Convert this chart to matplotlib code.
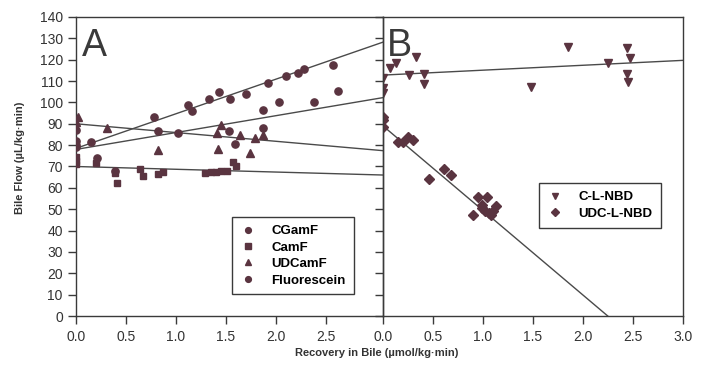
import matplotlib
matplotlib.use("Agg")
import matplotlib.pyplot as plt
import numpy as np

plt.rcParams['font.family'] = ['Liberation Sans', 'DejaVu Sans']

# ---- panel A data ----
cgamf_x = [0.0, 0.0, 0.0, 0.15, 0.78, 1.12, 1.16, 1.33, 1.43, 1.54, 1.70, 1.92, 2.10, 2.22, 2.28, 2.57]
cgamf_y = [87, 82, 79, 81.5, 93, 98.8, 96, 101.6, 104.9, 101.7, 104, 109.2, 112.2, 114, 115.8, 117.4]

camf_x = [0.0, 0.0, 0.0, 0.20, 0.39, 0.41, 0.64, 0.67, 0.82, 0.87, 1.29, 1.35, 1.40, 1.45, 1.51, 1.57, 1.60]
camf_y = [74.5, 72.5, 71, 71.8, 67, 62.2, 69, 65.5, 66.5, 67.5, 66.8, 67.3, 67.5, 67.8, 68, 72.2, 70.3]

udcamf_x = [0.02, 0.0, 0.31, 0.82, 1.42, 1.41, 1.45, 1.64, 1.74, 1.79, 1.87]
udcamf_y = [93, 91, 88, 77.7, 78, 85.8, 89.4, 84.6, 76.5, 83.3, 84.7]

fluor_x = [0.0, 0.21, 0.39, 0.82, 1.02, 1.53, 1.59, 1.87, 1.87, 2.03, 2.38, 2.62]
fluor_y = [80, 74, 68, 86.7, 85.6, 86.8, 80.5, 87.9, 96.4, 100.1, 100.3, 105.4]

# fitted lines (intercept, slope) for CGamF, CamF, UDCamF, Fluorescein
fit_a = {
    "CGamF": (78.5, 16.2),
    "CamF": (70.0, -1.3),
    "UDCamF": (90.0, -4.1),
    "Fluorescein": (78.0, 7.9),
}

# ---- panel B data ----
cl_x = [0.0, 0.0, 0.0, 0.07, 0.13, 0.33, 0.26, 0.41, 0.41, 1.48, 1.85, 2.25, 2.44, 2.47, 2.44, 2.45]
cl_y = [111.3, 106.8, 104.6, 116.3, 118.3, 121.4, 112.8, 113.3, 108.5, 107.1, 126.1, 118.6, 125.7, 120.6, 113.1, 109.7]

udcl_x = [0.0, 0.0, 0.0, 0.15, 0.20, 0.25, 0.30, 0.46, 0.61, 0.68, 0.95, 1.04, 0.90, 0.99,
          0.99, 1.02, 1.06, 1.08, 1.10, 1.13]
udcl_y = [93.3, 91.8, 88.6, 81.6, 81.6, 84, 82.2, 64, 68.8, 66, 55.9, 55.9, 47.3, 52,
          50.5, 49, 48, 47.5, 49, 51.5]

fit_cl = (112.8, 2.3)
fit_udcl = (89.0, -39.6)

mcol = "#5a3440"
lcol = "#4a4a4a"
acol = "#3a3a3a"

fig = plt.figure(figsize=(7.05, 3.67), dpi=100)
W, H = 705, 367
axB = fig.add_axes([383 / W, (H - 316) / H, 300 / W, 299 / H])
axA = fig.add_axes([76 / W, (H - 316) / H, (383 - 76) / W, 299 / H])
axA.patch.set_alpha(0)

leg_kw = dict(frameon=True, fancybox=False, edgecolor=acol, markerscale=0.8,
              prop={'weight': 'bold', 'size': 9.5}, handletextpad=1.1,
              labelspacing=0.32, borderpad=0.6, handlelength=1.3,
              borderaxespad=0, framealpha=1)

# panel A
axA.set_xlim(0, 3.07)
xa = np.array([0, 3.07])
for name, (b0, b1) in fit_a.items():
    axA.plot(xa, b0 + b1 * xa, color=lcol, lw=1.0, zorder=2)
axA.plot(cgamf_x, cgamf_y, 'o', color=mcol, ms=5.2, label="CGamF", zorder=3)
axA.plot(camf_x, camf_y, 's', color=mcol, ms=4.8, label="CamF", zorder=3)
axA.plot(udcamf_x, udcamf_y, '^', color=mcol, ms=5.5, label="UDCamF", zorder=3)
axA.plot(fluor_x, fluor_y, 'o', color=mcol, ms=5.2, label="Fluorescein", zorder=3)
axA.set_xticks([0, 0.5, 1.0, 1.5, 2.0, 2.5])
axA.set_xticklabels(["0.0", "0.5", "1.0", "1.5", "2.0", "2.5"])
axA.text(0.055, 135, "A", fontsize=27, color=acol, va="top", ha="left")
legA = axA.legend(loc="upper left", bbox_to_anchor=((232 - 76) / 307, (316 - 217) / 299), **leg_kw)
legA.get_frame().set_linewidth(1.0)

# panel B
axB.set_xlim(0, 3.0)
xb = np.array([0, 3.0])
axB.plot(xb, fit_cl[0] + fit_cl[1] * xb, color=lcol, lw=1.0, zorder=2)
x_end = -fit_udcl[0] / fit_udcl[1]
xb2 = np.array([0, x_end])
axB.plot(xb2, fit_udcl[0] + fit_udcl[1] * xb2, color=lcol, lw=1.0, zorder=2)
axB.plot(cl_x, cl_y, 'v', color=mcol, ms=5.8, label="C-L-NBD", zorder=3)
axB.plot(udcl_x, udcl_y, 'D', color=mcol, ms=4.8, label="UDC-L-NBD", zorder=3)
axB.set_xticks([0, 0.5, 1.0, 1.5, 2.0, 2.5, 3.0])
axB.set_xticklabels(["0.0", "0.5", "1.0", "1.5", "2.0", "2.5", "3.0"])
axB.set_yticklabels([])
axB.text(0.035, 135, "B", fontsize=27, color=acol, va="top", ha="left")
legB = axB.legend(loc="upper left", bbox_to_anchor=((539 - 383) / 300, (316 - 183) / 299), **leg_kw)
legB.get_frame().set_linewidth(1.0)

for ax in (axA, axB):
    ax.set_ylim(0, 140)
    ax.set_yticks(np.arange(0, 141, 10))
    ax.tick_params(direction="out", length=6, width=1.0, colors=acol,
                   labelsize=10, labelcolor="#333333")
    ax.tick_params(axis="x", pad=4)
    for s in ax.spines.values():
        s.set_color(acol)
        s.set_linewidth(1.0)

fig.text(20 / W, 1 - 158 / H, "Bile Flow (\u00b5L/kg\u00b7min)", rotation=90,
         ha="center", va="center", fontsize=8, fontweight="bold", color="#333333")
fig.text(377 / W, 1 - 353 / H, "Recovery in Bile (\u00b5mol/kg\u00b7min)",
         ha="center", va="center", fontsize=8, fontweight="bold", color="#333333")

fig.savefig("out.png", dpi=100)
